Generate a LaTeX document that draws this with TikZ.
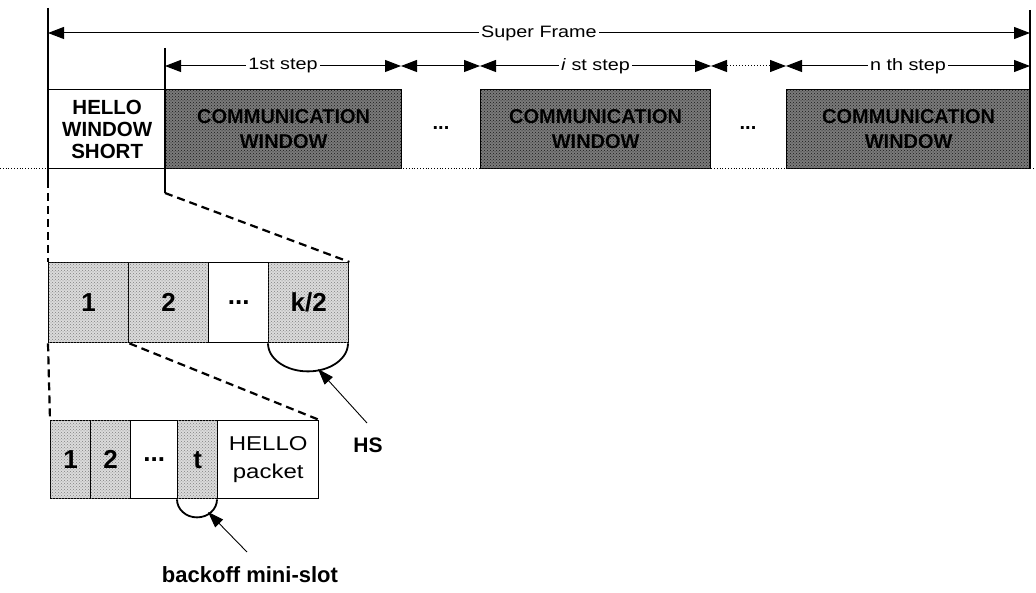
\documentclass[tikz,border=0pt]{standalone}
\usepackage{fontspec}
\setmainfont{Liberation Sans}
\newfontfamily\rg[FakeStretch=1.2]{Liberation Sans}
\usetikzlibrary{patterns,arrows.meta}
\tikzset{
  frame/.style={draw, line width=1.4pt, inner sep=0pt, anchor=north west},
  whitebox/.style={frame, fill=white},
  darkbox/.style={frame, fill=black!52, postaction={pattern=crosshatch dots, pattern color=black!90},
     text=black, align=center, minimum height=79pt, font=\bfseries\fontsize{20}{25}\selectfont},
  lightbox/.style={frame, fill=black!14, postaction={pattern=crosshatch dots, pattern color=black!50}},
  midcell/.style={minimum height=80pt, font=\bfseries\fontsize{26}{28}\selectfont},
  lowcell/.style={minimum height=78pt, font=\bfseries\fontsize{26}{28}\selectfont},
  dotsnode/.style={font=\bfseries\fontsize{20}{22}\selectfont, inner sep=0pt},
  vline/.style={line width=2.2pt},
  dsh/.style={line width=2.2pt, dash pattern=on 8pt off 5pt},
  dim/.style={line width=1pt, {Triangle[length=16pt,width=12pt]}-{Triangle[length=16pt,width=12pt]}},
  lbl/.style={fill=white, inner sep=2pt, font=\rg\fontsize{16.5}{18}\selectfont},
  arcline/.style={line width=1.8pt},
  pointer/.style={line width=0.9pt, -{Triangle[length=16pt,width=11pt]}},
}
\begin{document}
\begin{tikzpicture}[x=1pt,y=-1pt]
\useasboundingbox (0,0) rectangle (1036,593);

% dotted baseline
\coordinate (bl0) at (0,168);
\coordinate (bl1) at (1036,168);
\draw[dotted, line width=0.8pt] (bl0) -- (bl1);

% top row
\node[whitebox, minimum width=117pt, minimum height=79pt, align=center,
      font=\bfseries\fontsize{20.5}{22}\selectfont] (hws) at (48,89) {HELLO\\WINDOW\\SHORT};
\node[darkbox, minimum width=236pt] (c1) at (165,89) {COMMUNICATION\\WINDOW};
\node[darkbox, minimum width=230pt] (c2) at (480,89) {COMMUNICATION\\WINDOW};
\node[darkbox, minimum width=244pt] (c3) at (786,89) {COMMUNICATION\\WINDOW};
\node[dotsnode] (d1) at (441,128) {...};
\node[dotsnode] (d2) at (748,128) {...};

% middle row
\node[lightbox, midcell, minimum width=80pt] (m1) at (48,262) {1};
\node[lightbox, midcell, minimum width=80pt] (m2) at (128,262) {2};
\node[whitebox, midcell, minimum width=60pt] (m3) at (208,262) {...};
\node[lightbox, midcell, minimum width=80pt] (m4) at (268,262) {k/2};

% bottom row
\node[lightbox, lowcell, minimum width=40pt] (b1) at (50,420) {1};
\node[lightbox, lowcell, minimum width=40pt] (b2) at (90,420) {2};
\node[whitebox, lowcell, minimum width=47pt] (b3) at (130,420) {...};
\node[lightbox, lowcell, minimum width=40pt] (b4) at (177,420) {t};
\node[whitebox, lowcell, minimum width=101pt, align=center,
      font=\rg\fontsize{20}{28}\selectfont] (b5) at (217,420) {HELLO\\packet};

% vertical lines
\coordinate (L0) at (48,8);
\coordinate (L1) at (48,180);
\draw[vline] (L0) -- (L1);
\draw[dsh] (L1) -- (m1.north west);
\coordinate (K0) at (165,48);
\coordinate (K1) at (165,193);
\draw[vline] (K0) -- (K1);
\draw[dsh] (K1) -- (m4.north east);
\coordinate (R0) at (1030,10);
\coordinate (R1) at (1030,168);
\draw[vline] (R0) -- (R1);

% zoom lines middle -> bottom
\draw[dsh] (m1.south west) -- (b1.north west);
\draw[dsh] (m1.south east) -- (b5.north east);

% dimension arrows
\coordinate (sf0) at (48,33);
\coordinate (sf1) at (1030,33);
\draw[dim] (sf0) -- node[lbl] (sfl) {Super Frame} (sf1);
\coordinate (s0) at (165,66);
\coordinate (s1) at (401,66);
\coordinate (s2) at (480,66);
\coordinate (s3) at (711,66);
\coordinate (s4) at (786,66);
\coordinate (s5) at (1030,66);
\draw[dim] (s0) -- node[lbl] (st1) {1st step} (s1);
\draw[dim] (s1) -- (s2);
\draw[dim] (s2) -- node[lbl] (sti) {\textit{i} st step} (s3);
\draw[dim, dash pattern=on 1.5pt off 1.5pt] (s3) -- (s4);
\draw[dim] (s4) -- node[lbl] (stn) {n th step} (s5);

% HS arc and pointer
\draw[arcline] (m4.south west) arc[start angle=180, end angle=0, x radius=40, y radius=28];
\coordinate (hsTip) at (318,369);
\node[font=\bfseries\fontsize{21}{24}\selectfont, inner sep=0pt] (hs) at (368,445) {HS};
\coordinate (hsTail) at (367,423);
\draw[pointer] (hsTail) -- (hsTip);

% backoff arc and pointer
\draw[arcline] (b4.south west) arc[start angle=180, end angle=0, x radius=20, y radius=18];
\coordinate (bkTip) at (208,512);
\coordinate (bkTail) at (247,552);
\node[font=\bfseries\fontsize{22}{24}\selectfont, inner sep=0pt] (bk) at (250,575) {backoff mini-slot};
\draw[pointer] (bkTail) -- (bkTip);
\end{tikzpicture}
\end{document}
